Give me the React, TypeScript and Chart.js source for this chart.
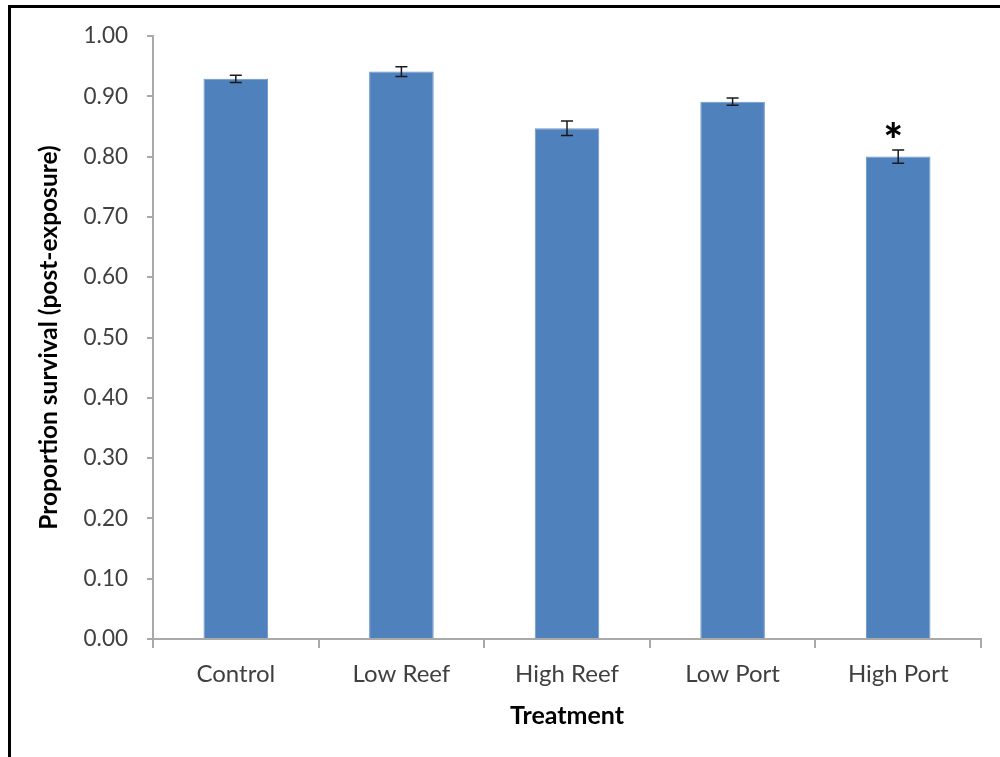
import React, { useEffect, useRef } from "react";
import { Chart, registerables } from "chart.js";

Chart.register(...registerables);

// Survival after exposure per treatment, with standard errors
const treatments = ["Control", "Low Reef", "High Reef", "Low Port", "High Port"];
const survival = [0.929, 0.941, 0.847, 0.891, 0.8];
const stdError = [0.006, 0.008, 0.012, 0.006, 0.011];
const significance = ["", "", "", "", "*"];

const Y_MIN = 0;
const Y_MAX = 1;
const Y_STEP = 0.1;

const FONT = "Lato, 'Open Sans', sans-serif";
const AXIS_GREY = "#a9a9a9";
const TEXT_GREY = "#404040";

// Draws error bars and significance markers on top of the bars
const errorBarPlugin = {
  id: "errorBars",
  afterDatasetsDraw(chart: any) {
    const { ctx } = chart;
    const yScale = chart.scales.y;
    const meta = chart.getDatasetMeta(0);
    ctx.save();
    meta.data.forEach((bar: any, i: number) => {
      const x = bar.x;
      const top = yScale.getPixelForValue(survival[i] + stdError[i]);
      const bottom = yScale.getPixelForValue(survival[i] - stdError[i]);
      const cap = 6;
      ctx.strokeStyle = "#1a1a1a";
      ctx.lineWidth = 1.5;
      ctx.beginPath();
      ctx.moveTo(x, top);
      ctx.lineTo(x, bottom);
      ctx.moveTo(x - cap, top);
      ctx.lineTo(x + cap, top);
      ctx.moveTo(x - cap, bottom);
      ctx.lineTo(x + cap, bottom);
      ctx.stroke();
      if (significance[i]) {
        ctx.fillStyle = "#000";
        ctx.font = `900 46px ${FONT}`;
        ctx.textAlign = "center";
        ctx.textBaseline = "alphabetic";
        ctx.fillText(significance[i], x - 5, top + 7);
      }
    });
    ctx.restore();
  },
};

// Black frame along the top and left edges of the figure
const framePlugin = {
  id: "frame",
  afterDraw(chart: any) {
    const { ctx, width, height } = chart;
    ctx.save();
    ctx.strokeStyle = "#000";
    ctx.lineWidth = 3;
    ctx.beginPath();
    ctx.moveTo(width, 6.5);
    ctx.lineTo(9.5, 6.5);
    ctx.lineTo(9.5, height);
    ctx.stroke();
    ctx.restore();
  },
};

export default function App() {
  const canvasRef = useRef<HTMLCanvasElement | null>(null);

  useEffect(() => {
    if (!canvasRef.current) return;
    const chart = new Chart(canvasRef.current, {
      type: "bar",
      data: {
        labels: treatments,
        datasets: [
          {
            data: survival,
            backgroundColor: "#4f81bd",
            borderColor: "#6a95c9",
            borderWidth: 1,
            categoryPercentage: 1,
            barPercentage: 0.39,
          },
        ],
      },
      options: {
        responsive: false,
        animation: false,
        devicePixelRatio: 1,
        layout: { padding: { left: 0, right: 19, top: 36, bottom: 0 } },
        plugins: {
          legend: { display: false },
          tooltip: { enabled: false },
        },
        scales: {
          x: {
            offset: true,
            grid: {
              display: true,
              offset: true,
              drawOnChartArea: false,
              drawTicks: true,
              tickLength: 9,
              color: AXIS_GREY,
              lineWidth: 2,
            },
            border: { display: true, color: AXIS_GREY, width: 2 },
            ticks: {
              color: TEXT_GREY,
              font: { family: FONT, size: 24 },
              padding: 12,
            },
            title: {
              display: true,
              text: "Treatment",
              color: "#000",
              font: { family: FONT, size: 25, weight: "bold" },
              padding: { top: 0, bottom: 26 },
            },
            afterFit(scale: any) {
              scale.height = 118;
            },
          },
          y: {
            min: Y_MIN,
            max: Y_MAX,
            grid: {
              display: true,
              drawOnChartArea: false,
              drawTicks: true,
              tickLength: 6,
              color: AXIS_GREY,
              lineWidth: 2,
            },
            border: { display: true, color: AXIS_GREY, width: 2 },
            ticks: {
              stepSize: Y_STEP,
              color: TEXT_GREY,
              font: { family: FONT, size: 22.5 },
              padding: 19,
              callback: (v: any) => Number(v).toFixed(2),
            },
            title: {
              display: true,
              text: "Proportion survival (post-exposure)",
              color: "#000",
              font: { family: FONT, size: 24.5, weight: "bold" },
              padding: { top: 34, bottom: 0 },
            },
            afterFit(scale: any) {
              scale.width = 153;
            },
          },
        },
      },
      plugins: [errorBarPlugin, framePlugin],
    });
    return () => chart.destroy();
  }, []);

  return (
    <div style={{ position: "absolute", left: 0, top: 0, width: 1000, height: 757, background: "#fff" }}>
      <canvas ref={canvasRef} width={1000} height={757} />
    </div>
  );
}
